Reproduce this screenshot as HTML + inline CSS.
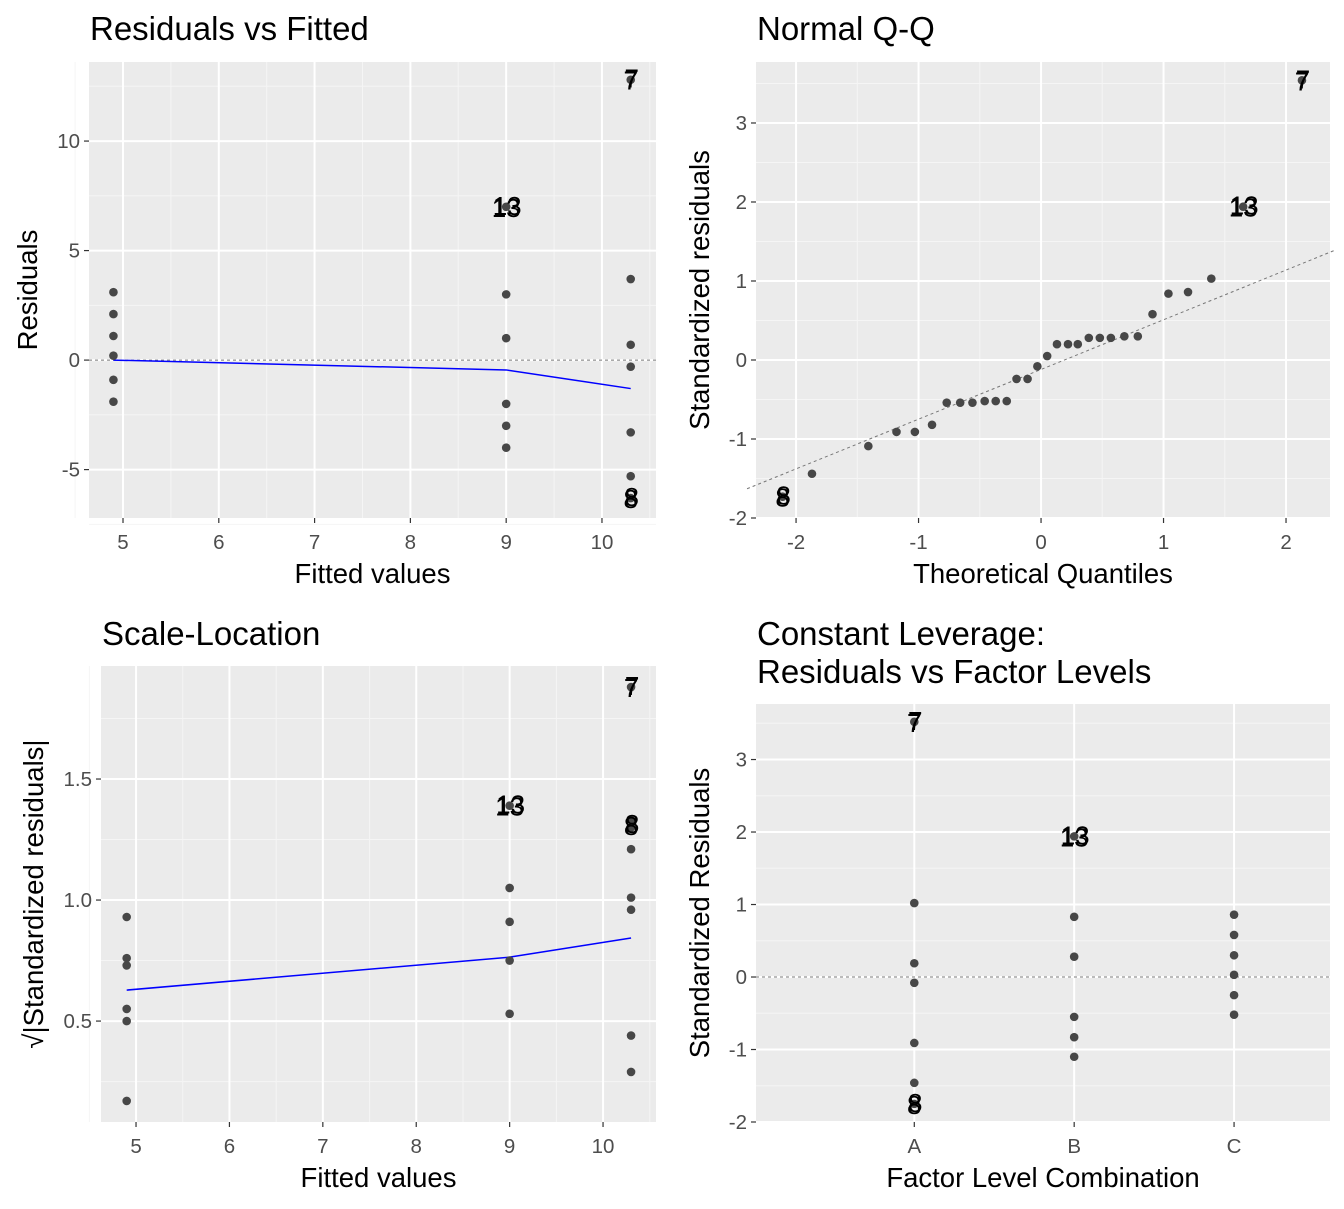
<!DOCTYPE html>
<html><head><meta charset="utf-8"><style>
body{margin:0;background:#fff;}
svg{display:block;font-family:"Liberation Sans",Arial,sans-serif;}
</style></head><body>
<svg id="c" width="1344" height="1209" xmlns="http://www.w3.org/2000/svg"></svg>
<script>
// Panel 1: Residuals vs Fitted
const p1Fitted=[4.9,4.9,4.9,4.9,4.9,4.9,9,9,9,9,9,9,10.3,10.3,10.3,10.3,10.3,10.3,10.3];
const p1Resid=[3.1,2.1,1.1,0.2,-0.9,-1.9,7.0,3.0,1.0,-2.0,-3.0,-4.0,12.8,3.7,0.7,-0.3,-3.3,-5.3,-6.3];
const p1SmoothX=[4.9,9,10.3];
const p1SmoothY=[0,-0.45,-1.3];
const p1Labels=[{x:10.3,y:12.8,t:"7"},{x:9,y:7.0,t:"13"},{x:10.3,y:-6.3,t:"8"}];
// Panel 2: Normal Q-Q
const p2Theo=[-2.11,-1.87,-1.41,-1.18,-1.03,-0.89,-0.77,-0.66,-0.56,-0.46,-0.37,-0.28,-0.20,-0.11,-0.03,0.05,0.13,0.22,0.30,0.39,0.48,0.57,0.68,0.79,0.91,1.04,1.20,1.39,1.65,2.13];
const p2Std=[-1.73,-1.44,-1.09,-0.91,-0.91,-0.82,-0.54,-0.54,-0.54,-0.52,-0.52,-0.52,-0.24,-0.24,-0.08,0.05,0.20,0.20,0.20,0.28,0.28,0.28,0.30,0.30,0.58,0.84,0.86,1.03,1.94,3.54];
const p2LineX=[-2.4,2.4];
const p2LineY=[-1.63,1.39];
const p2Labels=[{x:2.13,y:3.54,t:"7"},{x:1.65,y:1.94,t:"13"},{x:-2.11,y:-1.73,t:"8"}];
// Panel 3: Scale-Location
const p3Fitted=[4.9,4.9,4.9,4.9,4.9,4.9,9,9,9,9,9,10.3,10.3,10.3,10.3,10.3,10.3,10.3,10.3];
const p3Sqrt=[0.93,0.76,0.73,0.55,0.50,0.17,1.39,1.05,0.91,0.75,0.53,1.88,1.33,1.30,1.21,1.01,0.96,0.44,0.29];
const p3SmoothX=[4.9,9,10.3];
const p3SmoothY=[0.628,0.764,0.843];
const p3Labels=[{x:10.3,y:1.88,t:"7"},{x:9,y:1.39,t:"13"},{x:10.3,y:1.31,t:"8"}];
// Panel 4: Constant Leverage
const p4Levels=["A","B","C"];
const p4Group=[1,1,1,1,1,1,1,2,2,2,2,2,2,3,3,3,3,3,3];
const p4Std=[3.52,1.02,0.19,-0.08,-0.91,-1.46,-1.75,1.94,0.83,0.28,-0.55,-0.83,-1.10,0.86,0.58,0.30,0.03,-0.25,-0.52];
const p4Labels=[{x:1,y:3.52,t:"7"},{x:2,y:1.94,t:"13"},{x:1,y:-1.75,t:"8"}];

const svg=document.getElementById('c');
const NS="http://www.w3.org/2000/svg";
function el(tag,attrs,parent){const e=document.createElementNS(NS,tag);for(const k in attrs)e.setAttribute(k,attrs[k]);(parent||svg).appendChild(e);return e;}
function txt(s,attrs,parent){const e=el('text',attrs,parent);e.textContent=s;return e;}

function panel(cfg){
  const g=el('g',{});
  
  
  const {L,R,T,B,xr,yr}=cfg;
  const sx=v=>L+(v-xr[0])/(xr[1]-xr[0])*(R-L);
  const sy=v=>B-(v-yr[0])/(yr[1]-yr[0])*(B-T);
  const bg=el('rect',{x:L,y:T,width:R-L,height:B-T,fill:'#ebebeb'},g);
  
  (cfg.xminor||[]).forEach(v=>el('line',{x1:sx(v),x2:sx(v),y1:T,y2:B,stroke:'#f5f5f5','stroke-width':1},g));
  (cfg.yminor||[]).forEach(v=>el('line',{y1:sy(v),y2:sy(v),x1:L,x2:R,stroke:'#f5f5f5','stroke-width':1},g));
  cfg.xbreaks.forEach(v=>el('line',{x1:sx(v),x2:sx(v),y1:T,y2:B,stroke:'#fff','stroke-width':2},g));
  cfg.ybreaks.forEach(v=>el('line',{y1:sy(v),y2:sy(v),x1:L,x2:R,stroke:'#fff','stroke-width':2},g));
  if(cfg.hline!==undefined){el('line',{x1:L,x2:R,y1:sy(cfg.hline),y2:sy(cfg.hline),stroke:'#777','stroke-width':1,'stroke-dasharray':'3,3'},g);}
  if(cfg.refX){const l=el('line',{x1:sx(cfg.refX[0]),x2:sx(cfg.refX[1]),y1:sy(cfg.refY[0]),y2:sy(cfg.refY[1]),stroke:'#777','stroke-width':1,'stroke-dasharray':'3,3'},g);}
  if(cfg.smX){const pts=cfg.smX.map((v,i)=>sx(v)+','+sy(cfg.smY[i])).join(' ');const l=el('polyline',{points:pts,fill:'none',stroke:'#0000ff','stroke-width':1.5},g);}
  cfg.xs.forEach((v,i)=>{const c=el('circle',{cx:sx(v),cy:sy(cfg.ys[i]),r:4.3,fill:'#474747'},g);});
  cfg.labels.forEach(lb=>{
    const t=txt(lb.t,{x:sx(lb.x),y:sy(lb.y)+10,'font-size':26,'text-anchor':'middle',fill:'#000'},g);
    
    const t2=txt(lb.t,{x:sx(lb.x)+1,y:sy(lb.y)+8,'font-size':26,'text-anchor':'middle',fill:'#000'},g);
    
  });
  cfg.xbreaks.forEach((v,i)=>{el('line',{x1:sx(v),x2:sx(v),y1:B,y2:B+5,stroke:'#333','stroke-width':1.2},g);
    const t=txt(cfg.xlabels?cfg.xlabels[i]:String(v),{x:sx(v),y:B+31,'font-size':20.5,'text-anchor':'middle',fill:'#4d4d4d'},g);
    });
  cfg.ybreaks.forEach((v,i)=>{el('line',{y1:sy(v),y2:sy(v),x1:L-5,x2:L,stroke:'#333','stroke-width':1.2},g);
    const t=txt(cfg.ylabels?cfg.ylabels[i]:String(v),{x:L-9,y:sy(v)+7,'font-size':20.5,'text-anchor':'end',fill:'#4d4d4d'},g);
    });
  const xt=txt(cfg.xtitle,{x:(L+R)/2,y:B+65,'font-size':27.5,'text-anchor':'middle',fill:'#000'},g);
  
  const yt=txt(cfg.ytitle,{x:0,y:0,'font-size':27.5,'text-anchor':'middle',fill:'#000',transform:`translate(${cfg.ytx},${(T+B)/2+(cfg.ytdy||0)}) rotate(-90)`},g);
  
  cfg.title.forEach((s,i)=>{const t=txt(s,{x:cfg.titleX,y:cfg.titleY+i*38,'font-size':33,fill:'#000'},g);});
}

panel({name:'residuals-vs-fitted',L:89,R:656,T:62,B:518,xr:[4.645,10.564],yr:[-7.21,13.61],
 xbreaks:[5,6,7,8,9,10],ybreaks:[-5,0,5,10],xminor:[4.5,5.5,6.5,7.5,8.5,9.5,10.5],yminor:[-7.5,-2.5,2.5,7.5,12.5],
 hline:0,smX:p1SmoothX,smY:p1SmoothY,xs:p1Fitted,ys:p1Resid,labels:p1Labels,
 xtitle:'Fitted values',ytitle:'Residuals',ytx:37,title:['Residuals vs Fitted'],titleX:90,titleY:40});
panel({name:'normal-qq',L:756,R:1330,T:62,B:518,xr:[-2.327,2.359],yr:[-2,3.772],
 xbreaks:[-2,-1,0,1,2],ybreaks:[-2,-1,0,1,2,3],xminor:[-1.5,-0.5,0.5,1.5],yminor:[-1.5,-0.5,0.5,1.5,2.5,3.5],
 refX:p2LineX,refY:p2LineY,xs:p2Theo,ys:p2Std,labels:p2Labels,
 xtitle:'Theoretical Quantiles',ytitle:'Standardized residuals',ytx:709,ytdy:0,title:['Normal Q-Q'],titleX:757,titleY:40});
panel({name:'scale-location',L:101,R:656,T:666,B:1122,xr:[4.625,10.567],yr:[0.083,1.967],
 xbreaks:[5,6,7,8,9,10],ybreaks:[0.5,1.0,1.5],ylabels:['0.5','1.0','1.5'],xminor:[4.5,5.5,6.5,7.5,8.5,9.5,10.5],yminor:[0.25,0.75,1.25,1.75],
 smX:p3SmoothX,smY:p3SmoothY,xs:p3Fitted,ys:p3Sqrt,labels:p3Labels,
 xtitle:'Fitted values',ytitle:'√|Standardized residuals|',ytx:43,ytdy:0,title:['Scale-Location'],titleX:102,titleY:645});
panel({name:'constant-leverage',L:756,R:1330,T:704,B:1122,xr:[0.01,3.6],yr:[-2,3.766],
 xbreaks:[1,2,3],xlabels:p4Levels,ybreaks:[-2,-1,0,1,2,3],yminor:[-1.5,-0.5,0.5,1.5,2.5,3.5],
 hline:0,xs:p4Group,ys:p4Std,labels:p4Labels,
 xtitle:'Factor Level Combination',ytitle:'Standardized Residuals',ytx:709,title:['Constant Leverage:','Residuals vs Factor Levels'],titleX:757,titleY:645});
</script>
</body></html>
